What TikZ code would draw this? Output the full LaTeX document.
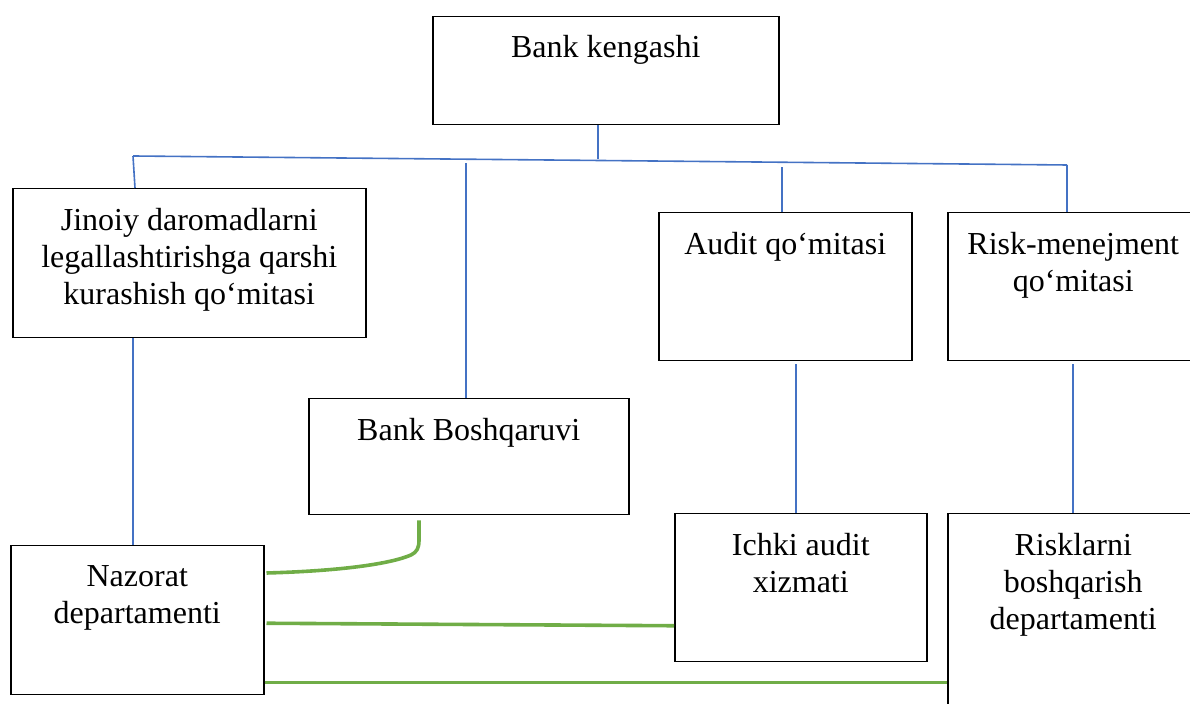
\documentclass[tikz,border=0pt]{standalone}
\usepackage{fontspec}
\setmainfont{Liberation Serif}
\usetikzlibrary{positioning}
\definecolor{busblue}{RGB}{68,114,196}
\definecolor{linkgreen}{RGB}{112,173,71}
\tikzset{orgbox/.style={draw=black,line width=0.75pt,anchor=north west,
    inner sep=0pt}}
\tikzset{orgtext/.style={font=\fontsize{16}{18.5}\selectfont,align=center,
    inner sep=0pt}}
\tikzset{busline/.style={draw=busblue,line width=0.8pt}}
\tikzset{linkline/.style={draw=linkgreen,line width=1.8pt}}

\begin{document}
\begin{tikzpicture}[x=0.5pt,y=-0.5pt]

\useasboundingbox (0,0) rectangle (1190,704);

%   箱
\node[orgbox,minimum width=173pt,minimum height=54pt] (kengash) at (432,16) {};
\node[orgbox,minimum width=176.5pt,minimum height=74.5pt] (jinoiy) at (12,188) {};
\node[orgbox,minimum width=160pt,minimum height=58pt] (boshq) at (308,398) {};
\node[orgbox,minimum width=126.5pt,minimum height=74pt] (audit) at (658,212) {};
\node[orgbox,minimum width=125.5pt,minimum height=74pt] (risk) at (947,212) {};
\node[orgbox,minimum width=126.5pt,minimum height=74.5pt] (nazorat) at (10,545) {};
\node[orgbox,minimum width=126pt,minimum height=74pt] (ichki) at (674,513) {};
\node[orgbox,minimum width=125.5pt,minimum height=110pt] (risklar) at (947,513) {};

%   文字
\node[orgtext,below=9.5pt of kengash.north] (kengashT) {Bank kengashi};
\node[orgtext,below=10pt of jinoiy.north] (jinoiyT)
    {Jinoiy daromadlarni\\legallashtirishga qarshi\\kurashish qo‘mitasi};
\node[orgtext,below=10pt of boshq.north] (boshqT) {Bank Boshqaruvi};
\node[orgtext,below=10pt of audit.north] (auditT) {Audit qo‘mitasi};
\node[orgtext,below=10pt of risk.north] (riskT) {Risk-menejment\\qo‘mitasi};
\node[orgtext,below=10pt of nazorat.north] (nazoratT) {Nazorat\\departamenti};
\node[orgtext,below=10pt of ichki.north] (ichkiT) {Ichki audit\\xizmati};
\node[orgtext,below=10pt of risklar.north] (risklarT)
    {Risklarni\\boshqarish\\departamenti};

%   青い線
\coordinate (busL) at (133,156);
\coordinate (busR) at (1067,165);
\draw[busline] (busL) -- (busR);
\draw[busline] ([xshift=-4pt]kengash.south) -- ++(0,34);
\draw[busline] (busL) -- ([xshift=1pt]busL |- jinoiy.north);
\draw[busline] ([xshift=-1.5pt]boshq.north) -- ++(0,-235);
\draw[busline] ([xshift=-1.5pt]audit.north) -- ++(0,-45);
\draw[busline] (busR) -- (busR |- risk.north);
\draw[busline] (jinoiy.south -| busL) -- (nazorat.north -| busL);
\draw[busline] ([xshift=-2.5pt,yshift=-1.5pt]ichki.north |- audit.south)
    -- ([xshift=-2.5pt]ichki.north);
\draw[busline] ([yshift=-1.5pt]risk.south) -- (risklar.north);

%   緑の線
\draw[linkline] ([xshift=1pt,yshift=-14pt]nazorat.north east)
    .. controls (340,571) and (390,564) .. (411,555)
    .. controls (417,552) and (419,548) .. (419,540)
    -- ([yshift=-2.5pt]boshq.south -| 419,0);
\draw[linkline] ([xshift=1pt,yshift=-1.5pt]nazorat.east)
    -- ([yshift=-19pt]ichki.west);
\draw[linkline] ([yshift=6.5pt]nazorat.south east)
    -- ([yshift=6.5pt]nazorat.south east -| risklar.west);

\end{tikzpicture}
\end{document}
